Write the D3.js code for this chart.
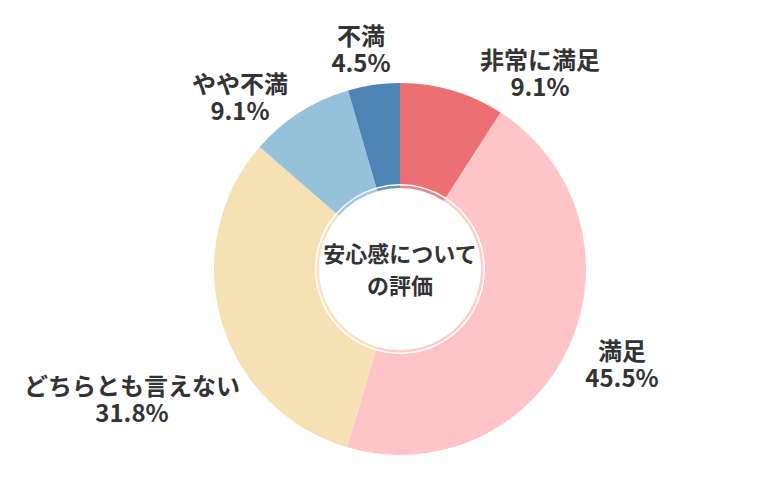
<!DOCTYPE html>
<html>
<head>
<meta charset="utf-8">
<script src="https://cdn.jsdelivr.net/npm/d3@7"></script>
<style>
  html, body { margin: 0; padding: 0; background: #fff; }
  svg { display: block; }
  text { font-family: "Noto Sans CJK JP", "Noto Sans", sans-serif; font-weight: 700; fill: #333; }
</style>
</head>
<body>
<svg id="chart" width="780" height="500"></svg>
<script>
// ---- data ----
const categories = ["非常に満足", "満足", "どちらとも言えない", "やや不満", "不満"];
const values = [9.1, 45.5, 31.8, 9.1, 4.5];
const valueLabels = ["9.1%", "45.5%", "31.8%", "9.1%", "4.5%"];
const colors = ["#EC7073", "#FFC4C7", "#F5E1B4", "#95C2DA", "#4E83B5"];
const centerTitle = ["安心感について", "の評価"];

// ---- layout (label anchor offsets from the chart centre, in px) ----
const labelOffsets = [[140, -195], [222, 96], [-268, 131], [-160, -171], [-39, -219]];

const svg = d3.select("#chart");
const cx = 400, cy = 269;
const R = 186, rInner = 85, ringOuter = 83.5, ringInner = 81;

const data = categories.map((c, i) => ({ cat: c, value: values[i], label: valueLabels[i], color: colors[i], off: labelOffsets[i] }));

const pie = d3.pie().value(d => d.value).sort(null);
const arcs = pie(data);

const g = svg.append("g").attr("transform", `translate(${cx},${cy})`);

const arc = d3.arc().innerRadius(rInner).outerRadius(R);
g.selectAll("path.slice").data(arcs).join("path")
  .attr("class", "slice")
  .attr("d", arc)
  .attr("fill", d => d.data.color);

const ring = d3.arc().innerRadius(ringInner).outerRadius(ringOuter);
g.selectAll("path.ring").data(arcs).join("path")
  .attr("class", "ring")
  .attr("d", ring)
  .attr("fill", d => d.data.color)
  .attr("opacity", 0.85);

// centre title
const ct = g.append("text").attr("text-anchor", "middle").style("font-size", "22px");
centerTitle.forEach((t, i) => {
  ct.append("tspan").attr("x", 0).attr("y", -15 + i * 32).attr("dy", "0.35em").text(t);
});

// outer labels
const lab = g.selectAll("text.lab").data(arcs).join("text")
  .attr("class", "lab")
  .attr("text-anchor", "middle")
  .style("font-size", "24px");
lab.append("tspan")
  .attr("x", d => d.data.off[0])
  .attr("y", d => d.data.off[1] - 13.5)
  .attr("dy", "0.35em")
  .text(d => d.data.cat);
lab.append("tspan")
  .attr("x", d => d.data.off[0])
  .attr("y", d => d.data.off[1] + 13.5)
  .attr("dy", "0.35em")
  .text(d => d.data.label);
</script>
</body>
</html>
